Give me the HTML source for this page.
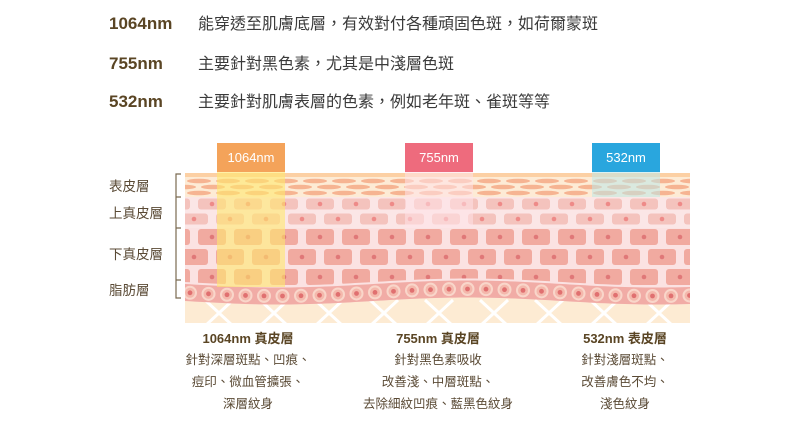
<!DOCTYPE html>
<html><head><meta charset="utf-8"><style>
html,body{margin:0;padding:0;background:#fff;width:806px;height:421px;overflow:hidden}
svg{display:block}
.b{font-family:"Liberation Sans","Noto Sans CJK TC",sans-serif;font-weight:bold;fill:#5a4524}
.t{font-family:"Liberation Sans","Noto Sans CJK TC",sans-serif;fill:#3a3a3a}
.l{font-family:"Liberation Sans","Noto Sans CJK TC",sans-serif;fill:#5a4a35}
</style></head><body>
<svg id="s" width="806" height="421" viewBox="0 0 806 421" xmlns="http://www.w3.org/2000/svg">
<defs><clipPath id="c"><rect x="185" y="173" width="505" height="150"/></clipPath></defs>
<text class="b" x="109" y="29" font-size="17">1064nm</text>
<text class="t" x="198" y="29" font-size="16">能穿透至肌膚底層，有效對付各種頑固色斑，如荷爾蒙斑</text>
<text class="b" x="109" y="69" font-size="17">755nm</text>
<text class="t" x="198" y="69" font-size="16">主要針對黑色素，尤其是中淺層色斑</text>
<text class="b" x="109" y="107" font-size="17">532nm</text>
<text class="t" x="198" y="107" font-size="16">主要針對肌膚表層的色素，例如老年斑、雀斑等等</text>

<text class="l" x="109" y="191" font-size="13.5">表皮層</text>
<text class="l" x="109" y="218" font-size="13.5">上真皮層</text>
<text class="l" x="109" y="259" font-size="13.5">下真皮層</text>
<text class="l" x="109" y="295" font-size="13.5">脂肪層</text>
<g stroke="#7a6a50" stroke-width="1.2" fill="none">
<path d="M181 174H176V298H181M176 197H181M176 228H181M176 280H181"/>
</g>
<g clip-path="url(#c)" id="skin">
<rect x="185" y="173" width="505" height="150" fill="#fdebd5"/>
<rect x="185" y="173" width="505" height="4" fill="#fcd0a4"/>
<rect x="185" y="197" width="505" height="31" fill="#fbe6e6"/>
<rect x="185" y="228" width="505" height="60" fill="#fbe2e2"/>
</g>
<g id="beams"></g>

<text class="b" x="248" y="343" font-size="13" text-anchor="middle">1064nm 真皮層</text>
<text class="l" x="248" y="364" font-size="12.5" text-anchor="middle">針對深層斑點、凹痕、</text>
<text class="l" x="248" y="386" font-size="12.5" text-anchor="middle">痘印、微血管擴張、</text>
<text class="l" x="248" y="408" font-size="12.5" text-anchor="middle">深層紋身</text>
<text class="b" x="438" y="343" font-size="13" text-anchor="middle">755nm 真皮層</text>
<text class="l" x="438" y="364" font-size="12.5" text-anchor="middle">針對黑色素吸收</text>
<text class="l" x="438" y="386" font-size="12.5" text-anchor="middle">改善淺、中層斑點、</text>
<text class="l" x="438" y="408" font-size="12.5" text-anchor="middle">去除細紋凹痕、藍黑色紋身</text>
<text class="b" x="625" y="343" font-size="13" text-anchor="middle">532nm 表皮層</text>
<text class="l" x="625" y="364" font-size="12.5" text-anchor="middle">針對淺層斑點、</text>
<text class="l" x="625" y="386" font-size="12.5" text-anchor="middle">改善膚色不均、</text>
<text class="l" x="625" y="408" font-size="12.5" text-anchor="middle">淺色紋身</text>
</svg>
<script>
var NS="http://www.w3.org/2000/svg",sk=document.getElementById("skin");
function el(t,a,p){var e=document.createElementNS(NS,t);for(var k in a)e.setAttribute(k,a[k]);(p||sk).appendChild(e);return e;}
[[181,0],[187,14],[193,0]].forEach(function(r){for(var x=170+r[1];x<700;x+=29)el("ellipse",{cx:x,cy:r[0],rx:12,ry:2.3,fill:"#f6b492"});});
[[204,0],[219,-18]].forEach(function(r){for(var x=176+r[1];x<700;x+=36){el("rect",{x:x-14,y:r[0]-5.5,width:28,height:11,rx:3,fill:"#f4c3bd"});el("circle",{cx:x,cy:r[0],r:2.3,fill:"#ee8a88"});}});
[[237,0],[257,-18],[277,0]].forEach(function(r){for(var x=176+r[1];x<700;x+=36){el("rect",{x:x-14,y:r[0]-8,width:28,height:16,rx:3,fill:"#f1aaa0"});el("circle",{cx:x,cy:r[0],r:2.3,fill:"#e07878"});}});
var wave=function(x){return 290+3.5*Math.sin((x-185)/60);};
var d="M185 "+wave(185);for(var x=185;x<=690;x+=5)d+=" L"+x+" "+(wave(x)-8);d+=" L690 323 L185 323Z";
el("path",{d:d,fill:"#fbe2e2"});
var d2="M185 "+(wave(185)+11);for(x=185;x<=690;x+=5)d2+=" L"+x+" "+(wave(x)+11);d2+=" L690 323 L185 323Z";
el("path",{d:d2,fill:"#fdebd3"});
var g=el("g",{stroke:"#fff","stroke-width":3});
for(x=150;x<720;x+=55){el("line",{x1:x,y1:300,x2:x+28,y2:326},g);el("line",{x1:x+28,y1:300,x2:x,y2:326},g);}
var d3="M185 "+(wave(185)-6);for(x=185;x<=690;x+=5)d3+=" L"+x+" "+(wave(x)-6);for(x=690;x>=185;x-=5)d3+=" L"+x+" "+(wave(x)+11);d3+="Z";
el("path",{d:d3,fill:"#f1aca6"});
for(x=190;x<700;x+=18.5){var y=wave(x)+2.5;el("circle",{cx:x,cy:y,r:7,fill:"#f9d6ca"});el("circle",{cx:x,cy:y,r:5,fill:"#f4b8ac"});el("circle",{cx:x,cy:y,r:2.4,fill:"#e07070"});}
var bm=document.getElementById("beams");
[[217,287,"#f4a35a","rgba(255,232,110,0.6)","1064nm"],[405,228,"#ee6b7d","rgba(255,225,232,0.55)","755nm"],[592,197,"#29a6de","rgba(190,232,232,0.55)","532nm"]].forEach(function(b){
el("rect",{x:b[0],y:172,width:68,height:b[1]-172,fill:b[3]},bm);
el("rect",{x:b[0],y:143,width:68,height:29,fill:b[2]},bm);
var t=el("text",{x:b[0]+34,y:162,"font-size":13,fill:"#fff","text-anchor":"middle","font-family":"Liberation Sans, sans-serif"},bm);t.textContent=b[4];});
</script>
</body></html>
